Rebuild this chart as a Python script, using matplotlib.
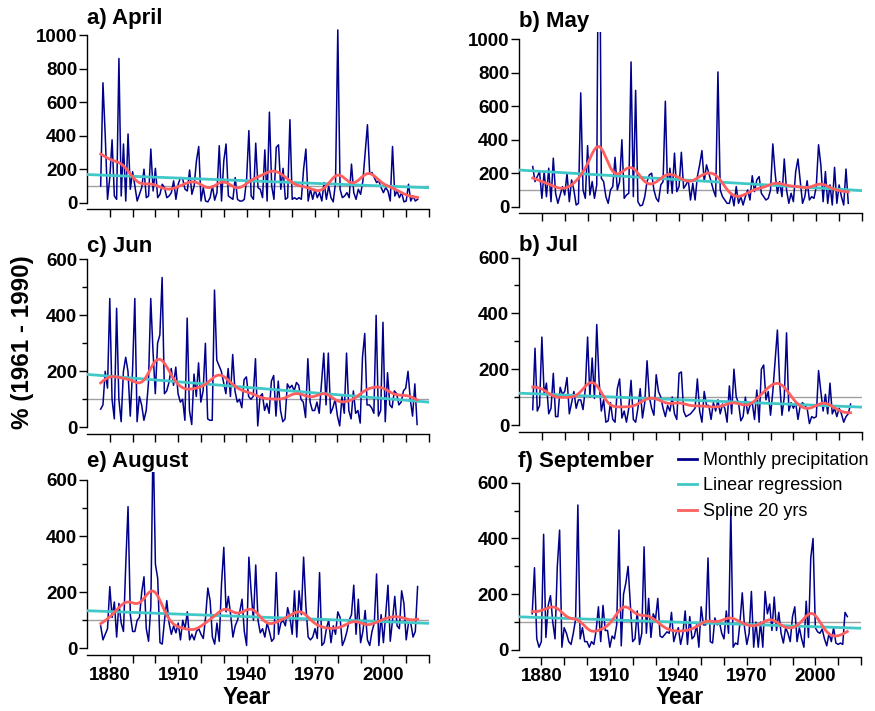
import numpy as np
import matplotlib
matplotlib.use("Agg")
import matplotlib.pyplot as plt
from matplotlib.lines import Line2D

plt.rcParams["font.family"] = ["Liberation Sans", "DejaVu Sans"]
plt.rcParams["font.weight"] = "bold"

FIRST_YEAR = 1876

# monthly precipitation, % of the 1961-1990 mean, one value per year from 1876
april = [100, 715, 400, 20, 150, 375, 40, 20, 860, 40,
         350, 10, 410, 80, 185, 100, 10, 50, 90, 200,
         30, 40, 320, 70, 205, 30, 50, 110, 90, 30,
         40, 60, 130, 20, 110, 150, 140, 80, 70, 195,
         50, 100, 250, 335, 10, 90, 10, 5, 30, 100,
         15, 60, 340, 10, 250, 350, 40, 30, 20, 150,
         20, 10, 10, 20, 140, 430, 40, 20, 355, 90,
         80, 30, 315, 10, 540, 100, 20, 330, 345, 80,
         205, 20, 30, 495, 20, 30, 20, 30, 20, 200,
         320, 10, 80, 20, 80, 30, 60, 10, 120, 20,
         100, 30, 5, 120, 1030, 80, 30, 40, 60, 30,
         230, 60, 20, 80, 50, 130, 300, 465, 170, 180,
         150, 120, 130, 90, 60, 90, 70, 10, 335, 40,
         70, 30, 60, 5, 10, 110, 10, 40, 10, 20]

may = [240, 150, 180, 210, 50, 210, 60, 230, 30, 290,
       80, 20, 70, 120, 70, 200, 30, 160, 100, 10,
       20, 680, 100, 50, 365, 70, 150, 50, 130, 2300,
       170, 150, 60, 20, 100, 120, 295, 100, 150, 400,
       50, 70, 80, 865, 60, 695, 30, 5, 10, 60,
       150, 190, 200, 100, 50, 30, 130, 150, 630, 80,
       230, 80, 320, 90, 120, 325, 110, 130, 160, 40,
       140, 40, 180, 250, 335, 150, 250, 200, 150, 100,
       60, 805, 100, 60, 40, 20, 20, 80, 5, 120,
       20, 60, 10, 60, 100, 40, 185, 90, 160, 180,
       80, 60, 40, 50, 100, 375, 200, 80, 150, 60,
       285, 100, 20, 80, 30, 210, 285, 150, 20, 60,
       155, 40, 60, 50, 120, 370, 250, 30, 210, 20,
       130, 10, 235, 20, 130, 60, 10, 225, 20]

jun = [65, 80, 200, 140, 460, 100, 30, 425, 100, 20,
       200, 250, 200, 40, 200, 460, 20, 110, 80, 25,
       60, 160, 460, 270, 120, 300, 330, 535, 120, 130,
       160, 210, 150, 215, 120, 90, 100, 25, 390, 60,
       10, 190, 110, 230, 90, 130, 300, 30, 25, 25,
       490, 240, 220, 200, 160, 120, 210, 110, 260, 130,
       90, 100, 70, 170, 180, 110, 100, 110, 245, 5,
       110, 120, 60, 85, 50, 165, 185, 40, 165, 60,
       20, 30, 155, 140, 150, 130, 160, 150, 100, 90,
       35, 245, 90, 60, 60, 90, 50, 160, 265, 80,
       265, 50, 70, 100, 40, 5, 110, 50, 265, 60,
       30, 130, 50, 60, 15, 250, 335, 80, 80, 70,
       50, 400, 40, 60, 375, 20, 195, 80, 70, 130,
       120, 80, 90, 130, 140, 200, 100, 40, 155, 10]

jul = [55, 275, 50, 70, 315, 110, 150, 40, 60, 185,
       30, 30, 135, 110, 120, 170, 40, 80, 120, 60,
       90, 90, 55, 130, 315, 100, 240, 95, 360, 160,
       50, 90, 10, 15, 80, 20, 10, 130, 165, 25,
       50, 10, 60, 160, 20, 10, 60, 130, 25, 80,
       230, 100, 60, 35, 180, 120, 100, 60, 30, 70,
       50, 100, 40, 20, 185, 190, 50, 30, 35, 40,
       50, 60, 165, 50, 10, 120, 70, 70, 20, 80,
       50, 90, 40, 75, 60, 10, 140, 40, 200, 100,
       80, 15, 30, 100, 40, 70, 80, 20, 125, 10,
       200, 215, 90, 120, 35, 120, 230, 340, 150, 35,
       100, 330, 50, 80, 60, 80, 20, 70, 80, 70,
       60, 5, 30, 25, 30, 195, 120, 50, 110, 40,
       150, 40, 60, 30, 60, 40, 10, 30, 40, 75]

aug = [80, 30, 50, 70, 220, 110, 165, 40, 160, 90,
       60, 300, 505, 120, 60, 60, 100, 110, 200, 255,
       70, 25, 150, 760, 300, 250, 20, 15, 100, 170,
       90, 50, 80, 55, 90, 30, 100, 70, 130, 30,
       50, 30, 60, 70, 50, 35, 110, 215, 170, 40,
       15, 90, 25, 230, 360, 130, 185, 120, 40, 80,
       100, 130, 175, 60, 10, 325, 200, 100, 297, 100,
       55, 70, 40, 90, 60, 25, 35, 270, 50, 90,
       100, 80, 145, 110, 50, 205, 40, 205, 120, 325,
       150, 40, 30, 40, 70, 35, 270, 10, 20, 70,
       100, 20, 80, 50, 130, 110, 10, 30, 60, 100,
       120, 225, 50, 175, 20, 60, 135, 30, 10, 60,
       90, 265, 10, 120, 20, 120, 225, 25, 100, 185,
       80, 70, 205, 160, 30, 90, 90, 40, 60, 220]

sep = [130, 295, 40, 10, 30, 415, 45, 160, 195, 100,
       40, 300, 430, 10, 80, 60, 30, 20, 60, 110,
       520, 40, 80, 30, 30, 10, 30, 20, 70, 155,
       30, 160, 70, 70, 10, 50, 40, 90, 430, 15,
       200, 240, 300, 160, 30, 40, 140, 20, 60, 370,
       60, 185, 45, 130, 110, 185, 50, 45, 55, 65,
       60, 135, 30, 60, 80, 20, 60, 140, 20, 120,
       40, 50, 90, 10, 155, 90, 90, 330, 30, 25,
       115, 90, 100, 60, 40, 140, 60, 500, 10, 25,
       20, 100, 205, 80, 20, 60, 210, 10, 100, 10,
       100, 10, 210, 130, 165, 70, 190, 70, 135, 60,
       25, 80, 60, 30, 120, 155, 30, 80, 40, 10,
       175, 45, 330, 400, 80, 65, 60, 75, 40, 15,
       60, 30, 80, 25, 20, 25, 20, 135, 120]

# linear trend, value at 1870 and at 2020
trend_years = [1870, 2020]
april_trend = [168, 89]
may_trend = [219, 96]
jun_trend = [189, 90]
jul_trend = [114, 64]
aug_trend = [134, 89]
sep_trend = [119, 78]

titles = ["a) April", "b) May", "c) Jun", "b) Jul", "e) August", "f) September"]
series = [april, may, jun, jul, aug, sep]
trends = [april_trend, may_trend, jun_trend, jul_trend, aug_trend, sep_trend]
legend_labels = ["Monthly precipitation", "Linear regression", "Spline 20 yrs"]

NAVY = "#00008b"
TEAL = "#40c8c8"
SALMON = "#ff5f5f"
GRAY = "#a0a0a0"

W, H = 875, 711
OFF = 6.6  # gap between the zero line and the x axis, px

# left, right, zero line, top tick (px), top tick value, upper y limit, title baseline
layout = [
    (87, 429, 202.7, 35.0, 1000, 1042, 24.0),
    (519, 862, 206.7, 39.3, 1000, 1042, 26.7),
    (87, 428.5, 427.3, 259.3, 600, 630, 251.7),
    (519, 862, 425.0, 257.5, 600, 630, 250.7),
    (87, 429, 648.3, 480.0, 600, 630, 467.3),
    (518.5, 861, 650.0, 482.7, 600, 630, 466.7),
]


def smooth(y, sigma=3.75):
    # gaussian kernel smoother, roughly a 20-year spline
    y = np.asarray(y, dtype=float)
    t = np.arange(len(y))
    w = np.exp(-0.5 * ((t[:, None] - t[None, :]) / sigma) ** 2)
    return w @ y / w.sum(axis=1)


fig = plt.figure(figsize=(W / 100, H / 100), dpi=100)

for k, (title, vals, tr) in enumerate(zip(titles, series, trends)):
    left, right, y0, ytop, vtop, ymax, tbase = layout[k]
    ppu = (y0 - ytop) / vtop
    bottom_px = y0 + OFF
    top_px = y0 - ymax * ppu
    ax = fig.add_axes([left / W, 1 - bottom_px / H,
                       (right - left) / W, (bottom_px - top_px) / H])
    ax.set_xlim(1870, 2020)
    ax.set_ylim(-OFF / ppu, ymax)

    years = FIRST_YEAR + np.arange(len(vals))
    ax.axhline(100, color=GRAY, lw=1.0, zorder=1)
    ax.plot(years, vals, color=NAVY, lw=1.1, zorder=2)
    ax.plot(trend_years, tr, color=TEAL, lw=2.0, zorder=3)
    ax.plot(years, smooth(vals), color=SALMON, lw=2.0, zorder=4)

    for s in ["top", "right"]:
        ax.spines[s].set_visible(False)
    for s in ["left", "bottom"]:
        ax.spines[s].set_linewidth(1.0)
    ax.spines["left"].set_bounds(0, vtop)

    ax.set_yticks(np.arange(0, vtop + 1, 200))
    if vtop == 600:
        ax.set_yticks([100, 300, 500], minor=True)
    ax.set_xticks([1880, 1910, 1940, 1970, 2000])
    ax.set_xticks([1890, 1900, 1920, 1930, 1950, 1960, 1980, 1990, 2010, 2020], minor=True)
    ax.tick_params(axis="y", which="major", length=6, width=1.0, pad=1, labelsize=13.5)
    ax.tick_params(axis="y", which="minor", length=3.5, width=1.0)
    ax.tick_params(axis="x", which="both", length=5.5, width=1.0, pad=3, labelsize=13.5)
    if k < 4:
        ax.tick_params(axis="x", labelbottom=False)

    fig.text(left / W, 1 - tbase / H, title, ha="left", va="baseline",
             fontsize=16, fontweight="bold")

fig.text(247 / W, 1 - 704 / H, "Year", ha="center", va="baseline", fontsize=16.5)
fig.text(680 / W, 1 - 704 / H, "Year", ha="center", va="baseline", fontsize=16.5)
fig.text(23 / W, 1 - 342 / H, "% (1961 - 1990)", rotation=90, ha="center",
         va="center", fontsize=17.5)

handles = [Line2D([], [], color=c, lw=2.0) for c in (NAVY, TEAL, SALMON)]
fig.legend(handles, legend_labels, loc="upper left",
           bbox_to_anchor=(678 / W, 1 - 452 / H), frameon=False,
           prop={"weight": "normal", "size": 13}, handlelength=1.05,
           handletextpad=0.35, labelspacing=0.47, borderpad=0, borderaxespad=0)

fig.savefig("out.png", dpi=100)
